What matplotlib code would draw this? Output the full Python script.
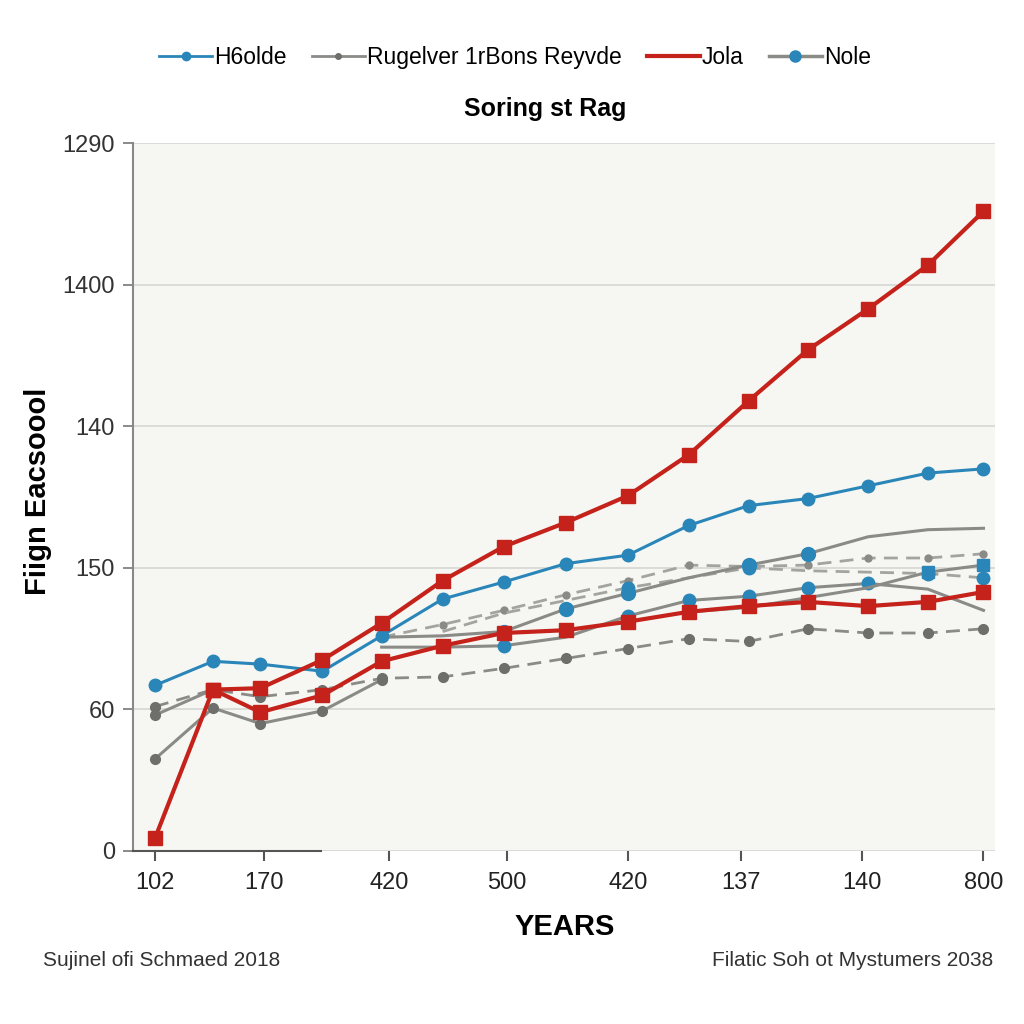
import matplotlib.pyplot as plt

plt.rcParams['font.family'] = ['Liberation Sans Narrow', 'Liberation Sans', 'DejaVu Sans']

# x positions of the sampled points
x = [0, 0.98, 1.78, 2.83, 3.83, 4.86, 5.89, 6.94, 7.99, 9.02, 10.03, 11.03, 12.05, 13.06, 14.0]
x_ticks = [0, 1.85, 3.95, 5.95, 8.0, 9.9, 11.95, 14.0]
x_labels = ['102', '170', '420', '500', '420', '137', '140', '800']
y_ticks = [0, 100, 200, 300, 400, 500]
y_labels = ['0', '60', '150', '140', '1400', '1290']

# series values (y in tick units *100)
red_top = [9, 114, 115, 135, 161, 191, 215, 232, 251, 280, 318, 354, 383, 414, 452]
red_low = [114, 98, 110, 134, 145, 154, 156, 162, 169, 173, 176, 173, 176, 183]
blue_top = [117, 134, 132, 127, 152, 178, 190, 203, 209, 230, 244, 249, 258, 267, 270]
gray_low = [65, 101, 90, 99, 121]
gray_short = [96, 114]
dash_low = [102, 114, 109, 114, 122, 123, 129, 136, 143, 150, 148, 157, 154, 154, 157]
dash_up = [151, 160, 170, 181, 191, 202, 201, 202, 207, 207, 210]
dash_mid = [155, 168, 177, 186, 193, 200, 198, 197, 196, 193]
nole_up = [151, 152, 155, 171, 182, 193, 202, 210, 222, 227, 228]
nole_low = [144, 144, 145, 151, 166, 177, 180, 186, 189, 185, 170]
nole_x = [169, 172, 179, 186, 197, 202]

RED = '#c4221a'
BLUE = '#2a86b8'
GRAY = '#8a8a86'
DGRAY = '#6e6e6b'

fig = plt.figure(figsize=(10.24, 10.24), dpi=100)
fig.patch.set_facecolor('white')
ax = fig.add_axes([0.130, 0.169, 0.842, 0.691])
ax.set_facecolor('#f6f7f2')

# gray lines
ax.plot(x[:5], gray_low, color=GRAY, lw=2.2, marker='o', ms=7, mfc=DGRAY, mec=DGRAY)
ax.plot(x[:2], gray_short, color=GRAY, lw=2.2, marker='o', ms=7, mfc=DGRAY, mec=DGRAY)
ax.plot(x, dash_low, color=GRAY, lw=2, ls=(0, (5, 3)), marker='o', ms=7, mfc=DGRAY, mec=DGRAY)
ax.plot(x[4:], dash_up, color='#a3a39f', lw=2, ls=(0, (5, 3)), marker='o', ms=5, mfc=GRAY, mec=GRAY)
ax.plot(x[5:], dash_mid, color='#a3a39f', lw=2, ls=(0, (5, 3)), marker='o', ms=9, mfc=BLUE, mec=BLUE,
        markevery=[3, 5, 8, 9])
ax.plot(x[4:], nole_low, color=GRAY, lw=2.2, marker='o', ms=9, mfc=BLUE, mec=BLUE,
        markevery=[2, 4, 5, 6, 7, 8])
ax.plot(x[4:], nole_up, color=GRAY, lw=2.2, marker='o', ms=10, mfc=BLUE, mec=BLUE,
        markevery=[2, 3, 4, 6, 7])
ax.plot(x[9:], nole_x, color=GRAY, lw=2.2, marker='s', ms=9, mfc=BLUE, mec=BLUE,
        markevery=[4, 5])

# blue and red
ax.plot(x, blue_top, color=BLUE, lw=2.2, marker='o', ms=9, mfc=BLUE, mec=BLUE)
ax.plot(x[1:], red_low, color=RED, lw=3, marker='s', ms=10, mfc=RED, mec=RED)
ax.plot(x, red_top, color=RED, lw=3, marker='s', ms=10, mfc=RED, mec=RED)

ax.set_xlim(-0.37, 14.2)
ax.set_ylim(0, 500)
ax.set_yticks(y_ticks)
ax.set_yticklabels(y_labels, fontsize=17, color='#333333')
ax.set_xticks(x_ticks)
ax.set_xticklabels(x_labels, fontsize=17, color='#222222')
ax.tick_params(axis='y', length=7, width=1.2, color='#777777', pad=6)
ax.tick_params(axis='x', length=7, width=1.5, color='#555555', pad=8)
ax.grid(axis='y', color='#d6d6d2', lw=1.2)
ax.set_axisbelow(True)
for s in ['top', 'right']:
    ax.spines[s].set_visible(False)
ax.spines['left'].set_color('#888888')
ax.spines['left'].set_linewidth(1.5)
ax.spines['bottom'].set_bounds(-0.37, 2.8)
ax.spines['bottom'].set_color('#555555')
ax.spines['bottom'].set_linewidth(1.5)

ax.set_xlabel('YEARS', fontsize=21, fontweight='bold', labelpad=14)
fig.text(0.037, 0.52, 'Fiign Eacsoool', rotation=90, ha='center', va='center',
         fontsize=21, fontweight='bold')

# legend
h1, = ax.plot([], [], color=BLUE, lw=2, marker='o', ms=6)
h2, = ax.plot([], [], color=GRAY, lw=2, marker='o', ms=4, mfc=DGRAY, mec=DGRAY)
h3, = ax.plot([], [], color=RED, lw=3)
h4, = ax.plot([], [], color=GRAY, lw=2.5, marker='o', ms=8, mfc=BLUE, mec=BLUE)
fig.legend([h1, h2, h3, h4], ['H6olde', 'Rugelver 1rBons Reyvde', 'Jola', 'Nole'],
           loc='center', bbox_to_anchor=(0.503, 0.944), ncol=4, frameon=False,
           fontsize=16.5, handlelength=2.3, handletextpad=0.1, columnspacing=1.1)

fig.text(0.532, 0.894, 'Soring st Rag', ha='center', va='center', fontsize=18, fontweight='bold')
fig.text(0.042, 0.062, 'Sujinel ofi Schmaed 2018', ha='left', va='center', fontsize=15, color='#333333')
fig.text(0.970, 0.062, 'Filatic Soh ot Mystumers 2038', ha='right', va='center', fontsize=15, color='#333333')

fig.savefig('out.png', dpi=100)
